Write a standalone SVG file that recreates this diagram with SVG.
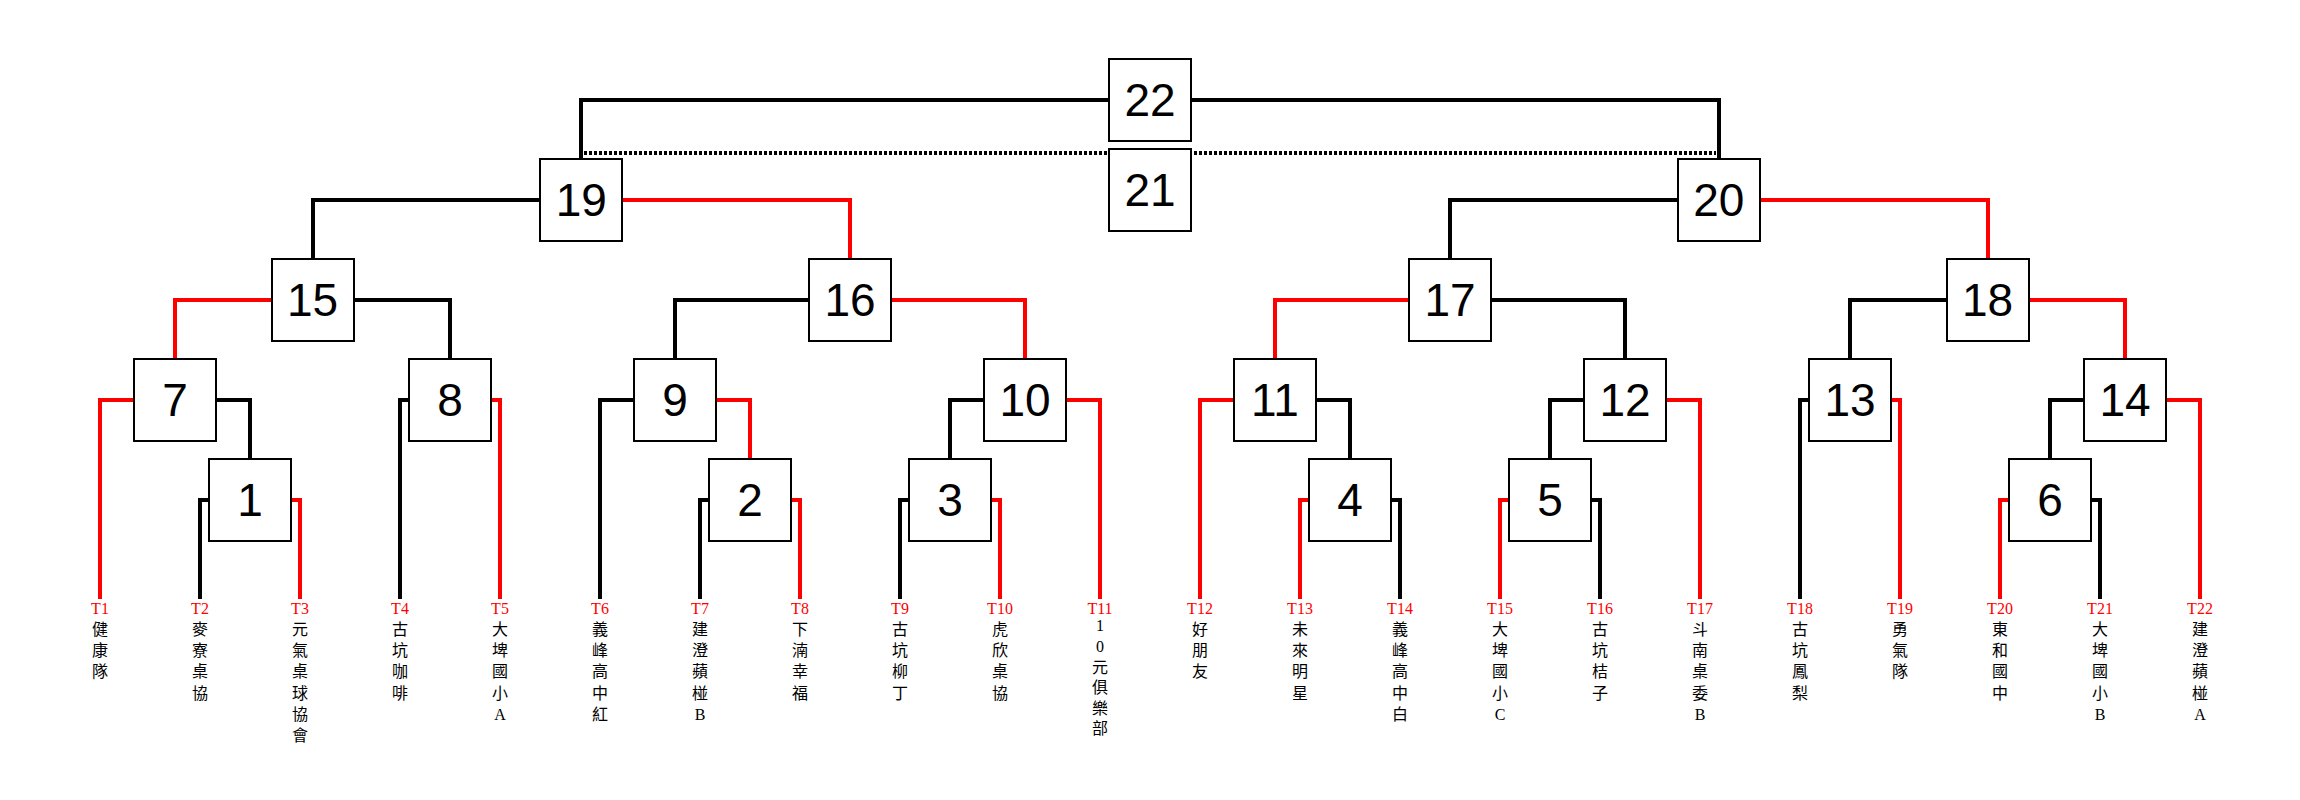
<svg xmlns="http://www.w3.org/2000/svg" width="2300" height="800" viewBox="0 0 2300 800">
<style>
.box{fill:#fff;stroke:#000;stroke-width:2;shape-rendering:crispEdges}
.num{font-family:"Liberation Sans",Arial,sans-serif;font-size:46px;text-anchor:middle;fill:#000}
.k{stroke:#000;stroke-width:4;fill:none;shape-rendering:crispEdges}
.r{stroke:#f00;stroke-width:4;fill:none;shape-rendering:crispEdges}
.dot{stroke:#000;stroke-width:4;stroke-dasharray:3 2;fill:none;shape-rendering:crispEdges}
.tl{font-family:"Liberation Serif",serif;font-size:16px;fill:#f00;text-anchor:middle}
.tn{font-family:"Liberation Serif","Noto Sans CJK TC",serif;font-size:16px;fill:#000;text-anchor:middle}
</style>
<rect width="2300" height="800" fill="#fff"/>
<g id="connectors">
<path class="k" d="M209 500H200V599"/><path class="r" d="M291 500H300V599"/>
<path class="k" d="M709 500H700V599"/><path class="r" d="M791 500H800V599"/>
<path class="k" d="M909 500H900V599"/><path class="r" d="M991 500H1000V599"/>
<path class="r" d="M1309 500H1300V599"/><path class="k" d="M1391 500H1400V599"/>
<path class="r" d="M1509 500H1500V599"/><path class="k" d="M1591 500H1600V599"/>
<path class="r" d="M2009 500H2000V599"/><path class="k" d="M2091 500H2100V599"/>
<path class="r" d="M134 400H100V599"/><path class="k" d="M216 400H250V459"/>
<path class="k" d="M409 400H400V599"/><path class="r" d="M491 400H500V599"/>
<path class="k" d="M634 400H600V599"/><path class="r" d="M716 400H750V459"/>
<path class="k" d="M984 400H950V459"/><path class="r" d="M1066 400H1100V599"/>
<path class="r" d="M1234 400H1200V599"/><path class="k" d="M1316 400H1350V459"/>
<path class="k" d="M1584 400H1550V459"/><path class="r" d="M1666 400H1700V599"/>
<path class="k" d="M1809 400H1800V599"/><path class="r" d="M1891 400H1900V599"/>
<path class="k" d="M2084 400H2050V459"/><path class="r" d="M2166 400H2200V599"/>
<path class="r" d="M271.5 300H175V359"/><path class="k" d="M353.5 300H450V359"/>
<path class="k" d="M809 300H675V359"/><path class="r" d="M891 300H1025V359"/>
<path class="r" d="M1409 300H1275V359"/><path class="k" d="M1491 300H1625V359"/>
<path class="k" d="M1946.5 300H1850V359"/><path class="r" d="M2028.5 300H2125V359"/>
<path class="k" d="M540.25 200H312.5V259"/><path class="r" d="M622.25 200H850V259"/>
<path class="k" d="M1677.75 200H1450V259"/><path class="r" d="M1759.75 200H1987.5V259"/>
<path class="k" d="M1109 100H581.25V159"/><path class="k" d="M1191 100H1718.75V159"/>
<path class="dot" d="M584 153H1716"/>
</g>
<g id="m1"><rect class="box" x="209" y="459" width="82" height="82"/><text class="num" x="250" y="515.5">1</text></g>
<g id="m2"><rect class="box" x="709" y="459" width="82" height="82"/><text class="num" x="750" y="515.5">2</text></g>
<g id="m3"><rect class="box" x="909" y="459" width="82" height="82"/><text class="num" x="950" y="515.5">3</text></g>
<g id="m4"><rect class="box" x="1309" y="459" width="82" height="82"/><text class="num" x="1350" y="515.5">4</text></g>
<g id="m5"><rect class="box" x="1509" y="459" width="82" height="82"/><text class="num" x="1550" y="515.5">5</text></g>
<g id="m6"><rect class="box" x="2009" y="459" width="82" height="82"/><text class="num" x="2050" y="515.5">6</text></g>
<g id="m7"><rect class="box" x="134" y="359" width="82" height="82"/><text class="num" x="175" y="415.5">7</text></g>
<g id="m8"><rect class="box" x="409" y="359" width="82" height="82"/><text class="num" x="450" y="415.5">8</text></g>
<g id="m9"><rect class="box" x="634" y="359" width="82" height="82"/><text class="num" x="675" y="415.5">9</text></g>
<g id="m10"><rect class="box" x="984" y="359" width="82" height="82"/><text class="num" x="1025" y="415.5">10</text></g>
<g id="m11"><rect class="box" x="1234" y="359" width="82" height="82"/><text class="num" x="1275" y="415.5">11</text></g>
<g id="m12"><rect class="box" x="1584" y="359" width="82" height="82"/><text class="num" x="1625" y="415.5">12</text></g>
<g id="m13"><rect class="box" x="1809" y="359" width="82" height="82"/><text class="num" x="1850" y="415.5">13</text></g>
<g id="m14"><rect class="box" x="2084" y="359" width="82" height="82"/><text class="num" x="2125" y="415.5">14</text></g>
<g id="m15"><rect class="box" x="271.5" y="259" width="82" height="82"/><text class="num" x="312.5" y="315.5">15</text></g>
<g id="m16"><rect class="box" x="809" y="259" width="82" height="82"/><text class="num" x="850" y="315.5">16</text></g>
<g id="m17"><rect class="box" x="1409" y="259" width="82" height="82"/><text class="num" x="1450" y="315.5">17</text></g>
<g id="m18"><rect class="box" x="1946.5" y="259" width="82" height="82"/><text class="num" x="1987.5" y="315.5">18</text></g>
<g id="m19"><rect class="box" x="540.25" y="159" width="82" height="82"/><text class="num" x="581.25" y="215.5">19</text></g>
<g id="m20"><rect class="box" x="1677.75" y="159" width="82" height="82"/><text class="num" x="1718.75" y="215.5">20</text></g>
<g id="m22"><rect class="box" x="1109" y="59" width="82" height="82"/><text class="num" x="1150" y="115.5">22</text></g>
<g id="m21"><rect class="box" x="1109" y="149" width="82" height="82"/><text class="num" x="1150" y="205.5">21</text></g>
<g id="teams">
<g id="t1"><text class="tl" x="100" y="614">T1</text><text class="tn" x="100" y="635">健<tspan x="100" dy="21.2">康</tspan><tspan x="100" dy="21.2">隊</tspan></text></g>
<g id="t2"><text class="tl" x="200" y="614">T2</text><text class="tn" x="200" y="635">麥<tspan x="200" dy="21.2">寮</tspan><tspan x="200" dy="21.2">桌</tspan><tspan x="200" dy="21.2">協</tspan></text></g>
<g id="t3"><text class="tl" x="300" y="614">T3</text><text class="tn" x="300" y="635">元<tspan x="300" dy="21.2">氣</tspan><tspan x="300" dy="21.2">桌</tspan><tspan x="300" dy="21.2">球</tspan><tspan x="300" dy="21.2">協</tspan><tspan x="300" dy="21.2">會</tspan></text></g>
<g id="t4"><text class="tl" x="400" y="614">T4</text><text class="tn" x="400" y="635">古<tspan x="400" dy="21.2">坑</tspan><tspan x="400" dy="21.2">咖</tspan><tspan x="400" dy="21.2">啡</tspan></text></g>
<g id="t5"><text class="tl" x="500" y="614">T5</text><text class="tn" x="500" y="635">大<tspan x="500" dy="21.2">埤</tspan><tspan x="500" dy="21.2">國</tspan><tspan x="500" dy="21.2">小</tspan><tspan x="500" dy="21.2">A</tspan></text></g>
<g id="t6"><text class="tl" x="600" y="614">T6</text><text class="tn" x="600" y="635">義<tspan x="600" dy="21.2">峰</tspan><tspan x="600" dy="21.2">高</tspan><tspan x="600" dy="21.2">中</tspan><tspan x="600" dy="21.2">紅</tspan></text></g>
<g id="t7"><text class="tl" x="700" y="614">T7</text><text class="tn" x="700" y="635">建<tspan x="700" dy="21.2">澄</tspan><tspan x="700" dy="21.2">蘋</tspan><tspan x="700" dy="21.2">椪</tspan><tspan x="700" dy="21.2">B</tspan></text></g>
<g id="t8"><text class="tl" x="800" y="614">T8</text><text class="tn" x="800" y="635">下<tspan x="800" dy="21.2">湳</tspan><tspan x="800" dy="21.2">幸</tspan><tspan x="800" dy="21.2">福</tspan></text></g>
<g id="t9"><text class="tl" x="900" y="614">T9</text><text class="tn" x="900" y="635">古<tspan x="900" dy="21.2">坑</tspan><tspan x="900" dy="21.2">柳</tspan><tspan x="900" dy="21.2">丁</tspan></text></g>
<g id="t10"><text class="tl" x="1000" y="614">T10</text><text class="tn" x="1000" y="635">虎<tspan x="1000" dy="21.2">欣</tspan><tspan x="1000" dy="21.2">桌</tspan><tspan x="1000" dy="21.2">協</tspan></text></g>
<g id="t11"><text class="tl" x="1100" y="614">T11</text><text class="tn" x="1100" y="631">1<tspan x="1100" dy="21">0</tspan><tspan x="1100" dy="21">元</tspan><tspan x="1100" dy="20.4">俱</tspan><tspan x="1100" dy="20.4">樂</tspan><tspan x="1100" dy="20.4">部</tspan></text></g>
<g id="t12"><text class="tl" x="1200" y="614">T12</text><text class="tn" x="1200" y="635">好<tspan x="1200" dy="21.2">朋</tspan><tspan x="1200" dy="21.2">友</tspan></text></g>
<g id="t13"><text class="tl" x="1300" y="614">T13</text><text class="tn" x="1300" y="635">未<tspan x="1300" dy="21.2">來</tspan><tspan x="1300" dy="21.2">明</tspan><tspan x="1300" dy="21.2">星</tspan></text></g>
<g id="t14"><text class="tl" x="1400" y="614">T14</text><text class="tn" x="1400" y="635">義<tspan x="1400" dy="21.2">峰</tspan><tspan x="1400" dy="21.2">高</tspan><tspan x="1400" dy="21.2">中</tspan><tspan x="1400" dy="21.2">白</tspan></text></g>
<g id="t15"><text class="tl" x="1500" y="614">T15</text><text class="tn" x="1500" y="635">大<tspan x="1500" dy="21.2">埤</tspan><tspan x="1500" dy="21.2">國</tspan><tspan x="1500" dy="21.2">小</tspan><tspan x="1500" dy="21.2">C</tspan></text></g>
<g id="t16"><text class="tl" x="1600" y="614">T16</text><text class="tn" x="1600" y="635">古<tspan x="1600" dy="21.2">坑</tspan><tspan x="1600" dy="21.2">桔</tspan><tspan x="1600" dy="21.2">子</tspan></text></g>
<g id="t17"><text class="tl" x="1700" y="614">T17</text><text class="tn" x="1700" y="635">斗<tspan x="1700" dy="21.2">南</tspan><tspan x="1700" dy="21.2">桌</tspan><tspan x="1700" dy="21.2">委</tspan><tspan x="1700" dy="21.2">B</tspan></text></g>
<g id="t18"><text class="tl" x="1800" y="614">T18</text><text class="tn" x="1800" y="635">古<tspan x="1800" dy="21.2">坑</tspan><tspan x="1800" dy="21.2">鳳</tspan><tspan x="1800" dy="21.2">梨</tspan></text></g>
<g id="t19"><text class="tl" x="1900" y="614">T19</text><text class="tn" x="1900" y="635">勇<tspan x="1900" dy="21.2">氣</tspan><tspan x="1900" dy="21.2">隊</tspan></text></g>
<g id="t20"><text class="tl" x="2000" y="614">T20</text><text class="tn" x="2000" y="635">東<tspan x="2000" dy="21.2">和</tspan><tspan x="2000" dy="21.2">國</tspan><tspan x="2000" dy="21.2">中</tspan></text></g>
<g id="t21"><text class="tl" x="2100" y="614">T21</text><text class="tn" x="2100" y="635">大<tspan x="2100" dy="21.2">埤</tspan><tspan x="2100" dy="21.2">國</tspan><tspan x="2100" dy="21.2">小</tspan><tspan x="2100" dy="21.2">B</tspan></text></g>
<g id="t22"><text class="tl" x="2200" y="614">T22</text><text class="tn" x="2200" y="635">建<tspan x="2200" dy="21.2">澄</tspan><tspan x="2200" dy="21.2">蘋</tspan><tspan x="2200" dy="21.2">椪</tspan><tspan x="2200" dy="21.2">A</tspan></text></g>
</g>
</svg>
